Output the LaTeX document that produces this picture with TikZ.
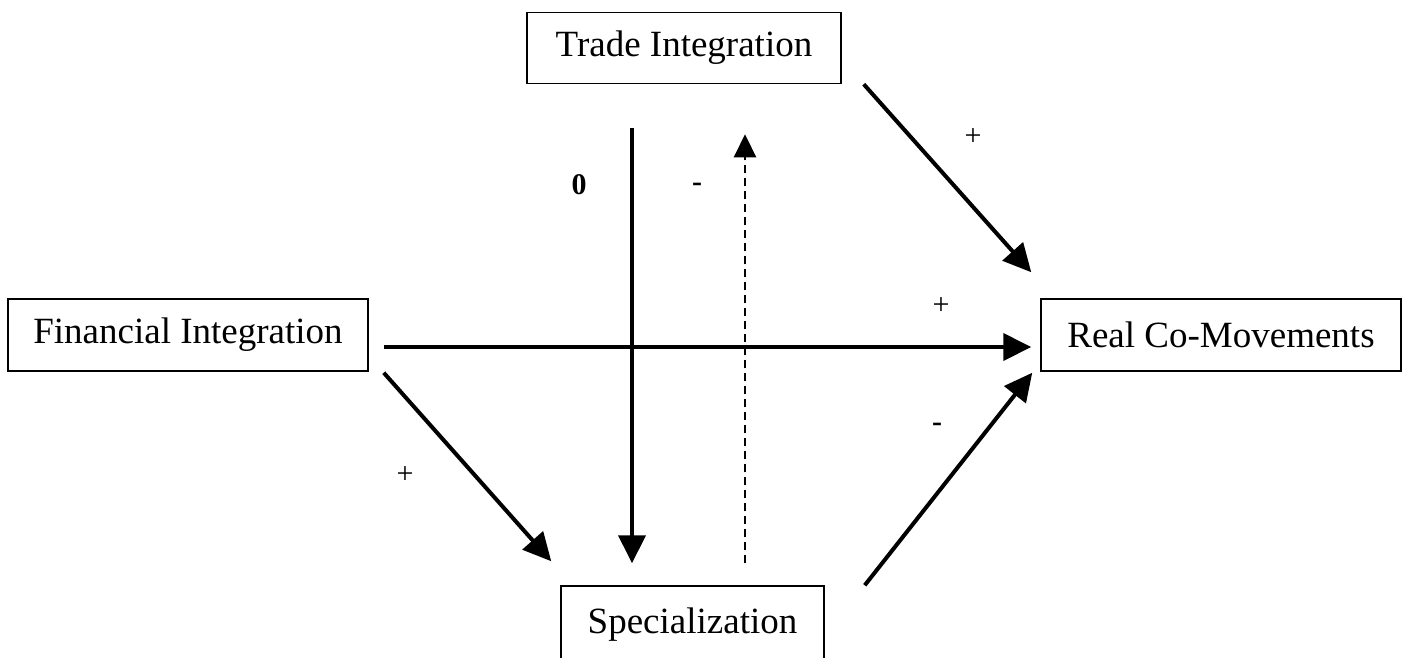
\documentclass[tikz,border=0pt]{standalone}
\usepackage{fontspec}
\setmainfont{Liberation Serif}
\usetikzlibrary{arrows.meta}

\tikzset{
  box/.style={draw, line width=1.5pt, inner sep=0pt, font=\fontsize{37}{44}\selectfont},
  arr/.style={line width=4pt, -{Triangle[length=28pt,width=27pt]}},
  dasharr/.style={line width=2.2pt, dash pattern=on 8pt off 5pt, -{Triangle[length=23pt,width=22pt]}},
  sign/.style={inner sep=0pt, font=\fontsize{30}{36}\selectfont},
}

\begin{document}
\begin{tikzpicture}[x=1pt, y=-1pt]
    \useasboundingbox (0,0) rectangle (1407,657);
    % boxes
    \node[box, minimum width=314pt, minimum height=71pt] (trade) at (684,48) {Trade Integration};
    \node[box, minimum width=360pt, minimum height=72pt] (fin) at (188,335) {Financial Integration};
    \node[box, minimum width=360pt, minimum height=72pt] (real) at (1221,335) {Real Co-Movements};
    \node[box, minimum width=263pt, minimum height=78pt] (spec) at (692.5,625) {Specialization};
    % arrows into real co-movements
    \draw[arr] ([shift={(22,0)}]trade.south east) -- ([shift={(-9,-26)}]real.north west);
    \draw[arr] ([shift={(15,12)}]fin.east) -- ([shift={(-9,12)}]real.west);
    \draw[arr] ([shift={(40,0)}]spec.north east) -- ([shift={(-8,1)}]real.south west);
    % arrows into specialization
    \draw[arr] ([shift={(15,1)}]fin.south east) -- ([shift={(-9,-24)}]spec.north west);
    \draw[arr] ([shift={(-52,44)}]trade.south) -- ([shift={(-60.5,-22)}]spec.north);
    \draw[dasharr] ([shift={(52.5,-22)}]spec.north) -- ([shift={(61,50)}]trade.south);
    % signs
    \node[sign] (s1) at (973,137) {+};
    \node[sign] (s2) at (579,185) {\textbf{0}};
    \node[sign] (s3) at (697,187) {\textbf{-}};
    \node[sign] (s4) at (941,306) {+};
    \node[sign] (s5) at (937,427) {\textbf{-}};
    \node[sign] (s6) at (405,475) {+};
\end{tikzpicture}
\end{document}
